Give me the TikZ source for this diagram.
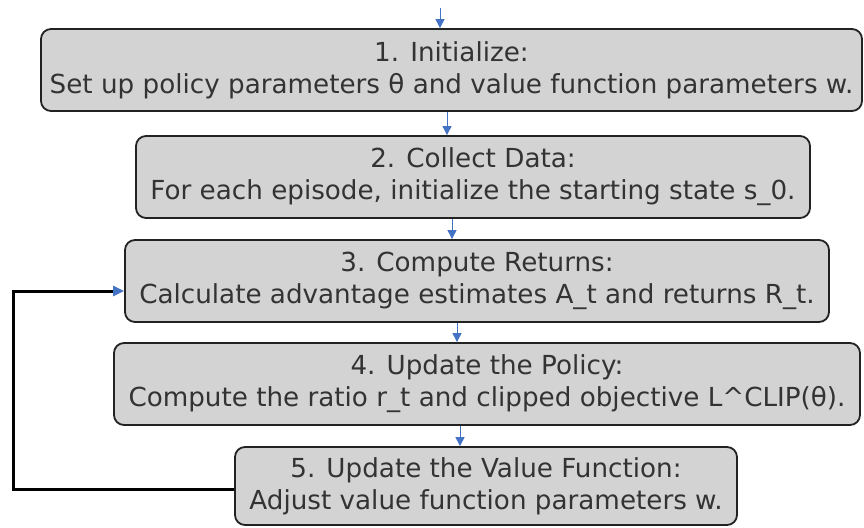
\documentclass[tikz,border=0pt]{standalone}
\usepackage{fontspec}
\setmainfont{DejaVu Sans}
\usetikzlibrary{arrows.meta, positioning}

\definecolor{boxfill}{RGB}{211,211,211}
\definecolor{boxline}{RGB}{34,34,34}
\definecolor{txtgray}{RGB}{51,51,51}
\definecolor{flowblue}{RGB}{68,114,196}

\begin{document}
\begin{tikzpicture}[x=1pt, y=-1pt,
    every node/.style={font=\fontsize{26.2}{32}\selectfont, text=txtgray},
    stepbox/.style={draw=boxline, fill=boxfill, line width=1.8pt, rounded corners=10pt,
                    align=center, inner sep=0pt, minimum height=82pt},
    flow/.style={draw=flowblue, line width=0.9pt, -{Triangle[length=9pt, width=9pt]}},
    loopback/.style={draw=black, line width=3pt,
                     -{Triangle[length=11pt, width=10pt, color=flowblue]}}
]
    \useasboundingbox (0,0) rectangle (864,527);

    % Steps
    \node (init) [stepbox, minimum width=821pt] at (451.5, 70) {
        1. Initialize:\\
        Set up policy parameters θ and value function parameters w.
    };
    \node (collect) [stepbox, minimum width=674pt] at (473, 177) {
        2. Collect Data:\\
        For each episode, initialize the starting state s\_0.
    };
    \node (returns) [stepbox, minimum width=704pt] at (477, 281) {
        3. Compute Returns:\\
        Calculate advantage estimates A\_t and returns R\_t.
    };
    \node (policy) [stepbox, minimum width=746pt] at (487, 384) {
        4. Update the Policy:\\
        Compute the ratio r\_t and clipped objective L\^{}CLIP(θ).
    };
    \node (value) [stepbox, minimum width=502pt, minimum height=78pt] at (486, 486) {
        5. Update the Value Function:\\
        Adjust value function parameters w.
    };

    % Arrow positions
    \coordinate (top) at (440, 8);
    \coordinate (a12) at (447, 0);
    \coordinate (a23) at (452, 0);
    \coordinate (a34) at (457, 0);
    \coordinate (a45) at (460, 0);
    \coordinate (back) at (13, 291);

    % Connections
    \draw [flow] (top) -- (init.north -| top);
    \draw [flow] (init.south -| a12) -- (collect.north -| a12);
    \draw [flow] (collect.south -| a23) -- (returns.north -| a23);
    \draw [flow] (returns.south -| a34) -- (policy.north -| a34);
    \draw [flow] (policy.south -| a45) -- (value.north -| a45);

    % Loop back from the value update
    \draw [loopback] ([yshift=-3pt]value.west) -| (back) -- (returns.west |- back);

\end{tikzpicture}
\end{document}
